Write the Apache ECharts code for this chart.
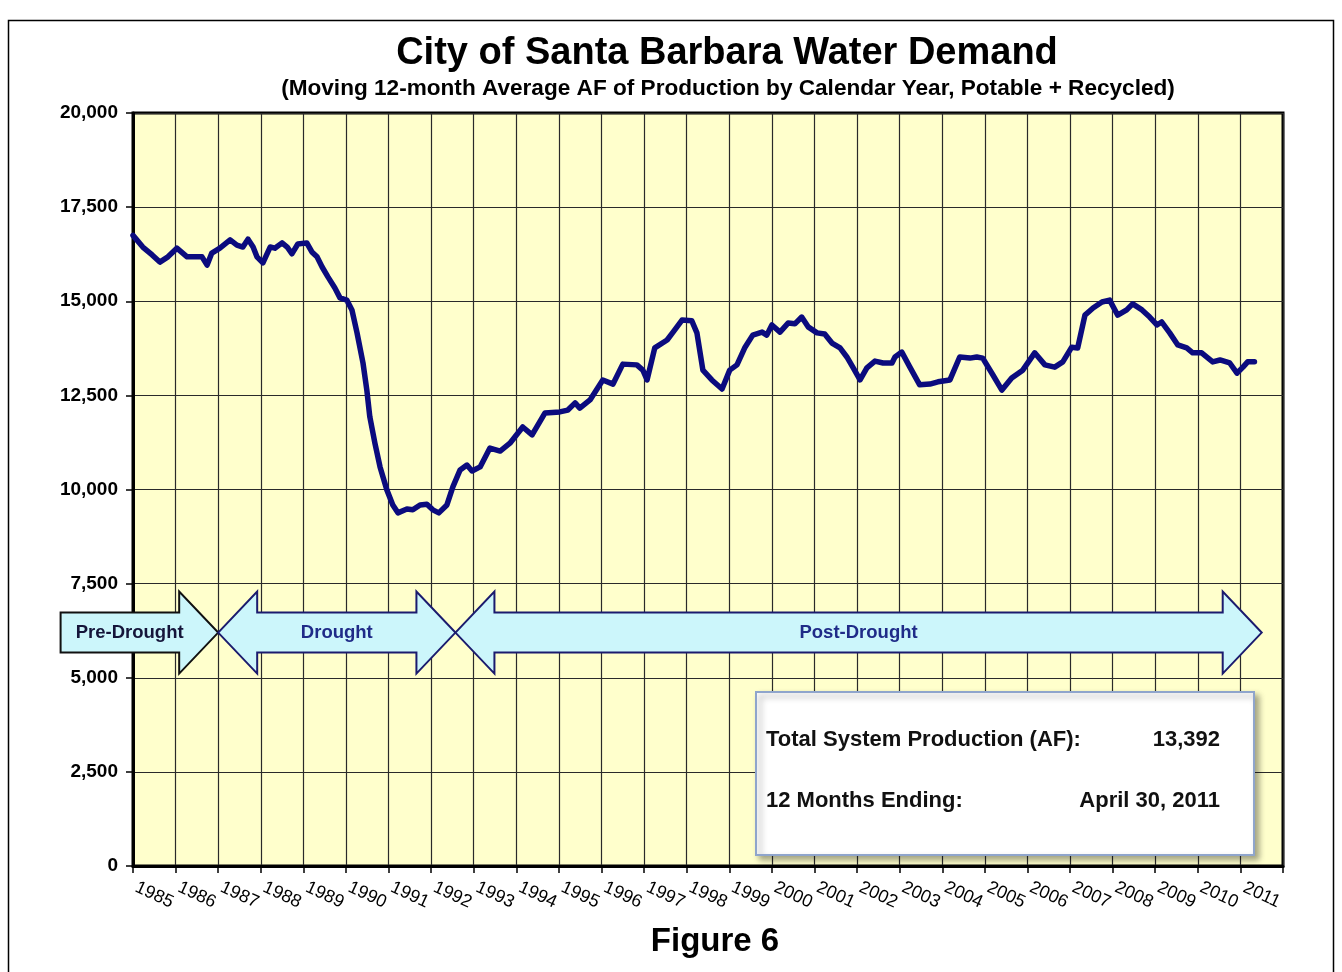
<!DOCTYPE html>
<html><head><meta charset="utf-8">
<script src="https://cdn.jsdelivr.net/npm/echarts@6/dist/echarts.min.js"></script>
<style>html,body{margin:0;padding:0;background:#fff}#c{width:1342px;height:972px}</style>
</head><body><div id="c"></div>
<script>
// ---- data ----
const yearLabels = ['1985','1986','1987','1988','1989','1990','1991','1992','1993','1994','1995','1996','1997','1998','1999','2000','2001','2002','2003','2004','2005','2006','2007','2008','2009','2010','2011'];
const sampleYears = [
 1985.00,1985.23,1985.45,1985.63,1985.82,1986.03,1986.27,1986.41,1986.62,1986.74,
 1986.85,1987.04,1987.28,1987.44,1987.58,1987.70,1987.82,1987.91,1988.05,1988.22,
 1988.33,1988.50,1988.62,1988.73,1988.87,1989.08,1989.20,1989.32,1989.44,1989.58,
 1989.74,1989.86,1990.02,1990.14,1990.26,1990.40,1990.49,1990.56,1990.68,1990.80,
 1990.96,1991.10,1991.22,1991.43,1991.57,1991.74,1991.90,1992.04,1992.18,1992.37,
 1992.51,1992.68,1992.84,1992.96,1993.15,1993.38,1993.62,1993.85,1994.15,1994.37,
 1994.67,1995.02,1995.21,1995.38,1995.49,1995.73,1996.03,1996.27,1996.50,1996.83,
 1996.97,1997.07,1997.25,1997.54,1997.68,1997.89,1998.12,1998.24,1998.38,1998.59,
 1998.83,1999.01,1999.18,1999.37,1999.55,1999.77,1999.88,2000.00,2000.19,2000.38,
 2000.54,2000.70,2000.85,2001.06,2001.24,2001.41,2001.60,2001.76,2001.90,2002.07,
 2002.23,2002.42,2002.61,2002.82,2002.89,2003.05,2003.24,2003.47,2003.71,2003.90,
 2004.18,2004.41,2004.65,2004.81,2004.95,2005.19,2005.40,2005.63,2005.89,2006.17,
 2006.41,2006.64,2006.83,2007.04,2007.18,2007.35,2007.54,2007.75,2007.93,2008.12,
 2008.33,2008.47,2008.69,2008.87,2009.04,2009.15,2009.34,2009.53,2009.74,2009.88,
 2010.09,2010.35,2010.52,2010.75,2010.92,2011.06,2011.17,2011.33];
const demandAF = [
 16750,16440,16230,16040,16180,16410,16180,16180,16180,15960,
 16280,16410,16630,16490,16440,16650,16440,16180,16020,16440,
 16410,16550,16440,16260,16520,16550,16310,16180,15910,15640,
 15350,15090,15030,14770,14160,13360,12640,11930,11230,10600,
 9990,9590,9380,9480,9460,9590,9610,9460,9380,9590,
 10070,10520,10650,10490,10600,11100,11020,11230,11660,11450,
 12030,12060,12110,12300,12160,12380,12910,12800,13330,13310,
 13170,12910,13760,13970,14180,14500,14480,14160,13170,12910,
 12670,13170,13310,13780,14100,14180,14100,14370,14180,14420,
 14400,14580,14320,14160,14130,13890,13760,13520,13250,12910,
 13230,13410,13360,13360,13520,13650,13250,12780,12800,12860,
 12910,13520,13490,13520,13490,13040,12640,12960,13170,13630,
 13310,13250,13390,13780,13760,14630,14820,14980,15030,14630,
 14770,14930,14770,14580,14370,14450,14160,13840,13760,13630,
 13630,13390,13440,13360,13090,13250,13390,13392];
const periodNames = ['Pre-Drought','Drought','Post-Drought'];
const periodStart = [1983.3, 1987.0, 1992.57];
const periodEnd = [1987.0, 1992.57, 2011.5];
const periodDoubleHeaded = [false, true, true];
const periodArrowLevel = 6200;
const summaryLabels = ['Total System Production (AF):', '12 Months Ending:'];
const summaryValues = ['13,392', 'April 30, 2011'];
const titleText = 'City of Santa Barbara Water Demand';
const subtitleText = '(Moving 12-month Average AF of Production by Calendar Year, Potable + Recycled)';
const figureText = 'Figure 6';

// ---- chart ----
const FONT = "'Liberation Sans', Arial, sans-serif";
const chart = echarts.init(document.getElementById('c'), null, {renderer: 'canvas'});
const option = {
  animation: false,
  backgroundColor: '#ffffff',
  grid: {left: 133, right: 59, top: 113, bottom: 106, show: true,
         backgroundColor: '#FFFFCC', borderColor: '#000', borderWidth: 3},
  xAxis: [{
    type: 'category', data: yearLabels, boundaryGap: true,
    axisLine: {show: true, lineStyle: {color: '#000', width: 3}},
    axisTick: {show: true, interval: 0, length: 7, lineStyle: {color: '#000', width: 1.5}},
    splitLine: {show: true, interval: 0, lineStyle: {color: '#2a2a2a', width: 1.2}},
    axisLabel: {interval: 0, rotate: -25, align: 'center', verticalAlign: 'middle',
                fontSize: 18, color: '#000', fontFamily: FONT, margin: 29}
  }, {
    type: 'value', min: 1985, max: 2012, show: false
  }],
  yAxis: {
    type: 'value', min: 0, max: 20000, interval: 2500,
    axisLine: {show: true, lineStyle: {color: '#000', width: 3}},
    axisTick: {show: true, length: 7, lineStyle: {color: '#000', width: 1.5}},
    splitLine: {show: true, lineStyle: {color: '#2a2a2a', width: 1.2}},
    axisLabel: {fontSize: 19, fontWeight: 'bold', color: '#000', fontFamily: FONT, margin: 15,
                formatter: v => v.toLocaleString('en-US')}
  },
  series: [{
    type: 'line', xAxisIndex: 1, yAxisIndex: 0,
    data: sampleYears.map((y, i) => [y, demandAF[i]]),
    showSymbol: false, symbol: 'none',
    lineStyle: {color: '#0B0B7E', width: 5.5, join: 'round', cap: 'round'},
    z: 5
  }]
};
chart.setOption(option);

const px = y => chart.convertToPixel({xAxisIndex: 1}, y);
const py = v => chart.convertToPixel({yAxisIndex: 0}, v);
const cy = py(periodArrowLevel);
const bodyH = 20, headH = 41, headL = 39;
const graphics = [];

periodNames.forEach((name, i) => {
  const x0 = px(periodStart[i]), x1 = px(periodEnd[i]);
  let pts, tx;
  if (periodDoubleHeaded[i]) {
    pts = [[x0, cy], [x0 + headL, cy - headH], [x0 + headL, cy - bodyH], [x1 - headL, cy - bodyH],
           [x1 - headL, cy - headH], [x1, cy], [x1 - headL, cy + headH], [x1 - headL, cy + bodyH],
           [x0 + headL, cy + bodyH], [x0 + headL, cy + headH]];
    tx = (x0 + x1) / 2;
  } else {
    pts = [[x0, cy - bodyH], [x1 - headL, cy - bodyH], [x1 - headL, cy - headH], [x1, cy],
           [x1 - headL, cy + headH], [x1 - headL, cy + bodyH], [x0, cy + bodyH]];
    tx = (x0 + x1 - headL / 2) / 2;
  }
  const stroke = i === 0 ? '#111111' : '#1B1B6E';
  graphics.push({type: 'polygon', z: 100, shape: {points: pts},
    style: {fill: '#CCF6FB', stroke: stroke, lineWidth: 2, lineJoin: 'miter'}});
  graphics.push({type: 'text', z: 101, x: tx, y: cy,
    style: {text: name, fontSize: 18.5, fontWeight: 'bold', fontFamily: FONT,
            fill: i === 0 ? '#15153A' : '#1F2B88', align: 'center', verticalAlign: 'middle'}});
});

// summary box
graphics.push({type: 'rect', z: 100, shape: {x: 756, y: 692, width: 498, height: 163},
  style: {fill: '#ffffff', stroke: '#8FA5CC', lineWidth: 2,
          shadowBlur: 6, shadowOffsetX: 4, shadowOffsetY: 4, shadowColor: 'rgba(0,0,0,0.35)'}});
summaryLabels.forEach((t, i) => {
  const y = 740 + i * 61;
  graphics.push({type: 'text', z: 101, x: 766, y: y,
    style: {text: t, fontSize: 22, fontWeight: 'bold', fontFamily: FONT, fill: '#111',
            align: 'left', verticalAlign: 'middle'}});
  graphics.push({type: 'text', z: 101, x: 1220, y: y,
    style: {text: summaryValues[i], fontSize: 22, fontWeight: 'bold', fontFamily: FONT, fill: '#111',
            align: 'right', verticalAlign: 'middle'}});
});

// titles
graphics.push({type: 'text', z: 101, x: 727, y: 54,
  style: {text: titleText, fontSize: 38, fontWeight: 'bold', fontFamily: FONT, fill: '#000',
          align: 'center', verticalAlign: 'middle'}});
graphics.push({type: 'text', z: 101, x: 728, y: 89,
  style: {text: subtitleText, fontSize: 22.6, fontWeight: 'bold', fontFamily: FONT, fill: '#000',
          align: 'center', verticalAlign: 'middle'}});
graphics.push({type: 'text', z: 101, x: 715, y: 942,
  style: {text: figureText, fontSize: 33, fontWeight: 'bold', fontFamily: FONT, fill: '#000',
          align: 'center', verticalAlign: 'middle'}});
// outer frame
graphics.push({type: 'rect', z: 99, shape: {x: 8.5, y: 20.5, width: 1325, height: 960},
  style: {fill: 'transparent', stroke: '#000', lineWidth: 1.5}});

chart.setOption({graphic: graphics});
</script>
</body></html>
